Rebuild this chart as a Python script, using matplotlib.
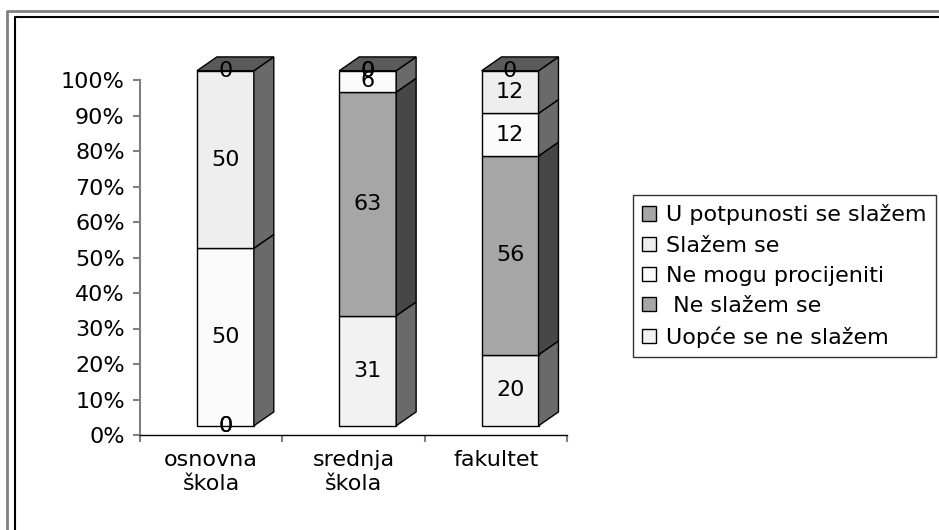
import matplotlib.pyplot as plt
from matplotlib.patches import Polygon, Patch
from matplotlib.lines import Line2D
import numpy as np

plt.rcParams['font.family'] = ['DejaVu Sans']

# kategorije i serije (odozdo prema gore)
kategorije = ['osnovna\nškola', 'srednja\nškola', 'fakultet']
serije = ['Uopće se ne slažem', ' Ne slažem se', 'Ne mogu procijeniti', 'Slažem se', 'U potpunosti se slažem']
uopce = [0, 31, 20]
ne_slazem = [0, 63, 56]
ne_mogu = [50, 6, 12]
slazem = [50, 0, 12]
potpuno = [0, 0, 0]
vrijednosti = [uopce, ne_slazem, ne_mogu, slazem, potpuno]

lice = ['#F2F2F2', '#A6A6A6', '#FBFBFB', '#EEEEEE', '#A6A6A6']
bok = ['#6A6A6A', '#474747', '#6A6A6A', '#6A6A6A', '#474747']
vrh = '#5A5A5A'

fig = plt.figure(figsize=(9.39, 5.30), dpi=100)
ax = fig.add_axes([140 / 939, 1 - 435 / 530, 427 / 939, 355 / 530])

# geometrija 3D stupaca
lijevo, sirina = -0.10, 0.40
dx, dy = 0.14, 3.9
pomak = 2.6

for i in range(len(kategorije)):
    x0 = i + lijevo
    x1 = x0 + sirina
    dno = 0
    for s, vals in enumerate(vrijednosti):
        v = vals[i]
        if v > 0:
            b = dno + pomak
            t = dno + v + pomak
            ax.add_patch(Polygon([(x0, b), (x1, b), (x1, t), (x0, t)], closed=True,
                                 facecolor=lice[s], edgecolor='black', lw=1, clip_on=False, zorder=3))
            ax.add_patch(Polygon([(x1, b), (x1 + dx, b + dy), (x1 + dx, t + dy), (x1, t)], closed=True,
                                 facecolor=bok[s], edgecolor='black', lw=1, clip_on=False, zorder=3))
        dno += v
    t = dno + pomak
    ax.add_patch(Polygon([(x0, t), (x0 + dx, t + dy), (x1 + dx, t + dy), (x1, t)], closed=True,
                         facecolor=vrh, edgecolor='black', lw=1, clip_on=False, zorder=3))

    # oznake podataka
    dno = 0
    for s, vals in enumerate(vrijednosti):
        v = vals[i]
        ax.text((x0 + x1) / 2, dno + v / 2 + pomak, str(v), ha='center', va='center',
                fontsize=16, color='black', zorder=5, clip_on=False)
        dno += v

ax.set_xlim(-0.5, 2.5)
ax.set_ylim(0, 100)
ax.set_yticks(np.arange(0, 101, 10))
ax.set_yticklabels([f'{p}%' for p in range(0, 101, 10)], fontsize=16)
ax.set_xticks([0, 1, 2])
ax.set_xticklabels(kategorije, fontsize=16, linespacing=1.25)
ax.set_xticks([-0.5, 0.5, 1.5, 2.5], minor=True)
ax.tick_params(axis='x', which='major', length=0, pad=11)
ax.tick_params(axis='x', which='minor', length=5, color='#808080', width=1.5)
ax.tick_params(axis='y', length=5, color='#808080', width=1.5, pad=6)
for side in ['top', 'right']:
    ax.spines[side].set_visible(False)
ax.spines['left'].set_color('#808080')
ax.spines['left'].set_linewidth(1.5)
ax.spines['bottom'].set_color('black')
ax.spines['bottom'].set_linewidth(1)
ax.patch.set_alpha(0)

# legenda
rucke = [Patch(facecolor=lice[s], edgecolor='black', lw=1) for s in range(4, -1, -1)]
natpisi = [serije[s] for s in range(4, -1, -1)]
leg = fig.legend(rucke, natpisi, loc='upper left', bbox_to_anchor=(633 / 939, 1 - 195 / 530),
                 fontsize=16, frameon=True, fancybox=False, borderaxespad=0, borderpad=0.42,
                 handlelength=0.6, handleheight=0.6, handletextpad=0.45, labelspacing=0.46)
leg.get_frame().set_edgecolor('black')
leg.get_frame().set_linewidth(1)

# okvir slike
fig.add_artist(Line2D([7 / 939, 7 / 939, 1], [0, 1 - 11 / 530, 1 - 11 / 530], color='#808080', lw=2))
fig.add_artist(Line2D([15 / 939, 15 / 939, 1], [0, 1 - 17 / 530, 1 - 17 / 530], color='black', lw=1.5))

fig.savefig('out.png', dpi=100)
